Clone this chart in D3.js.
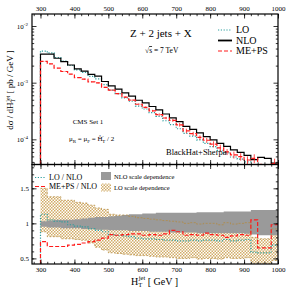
<!DOCTYPE html>
<html>
<head>
<meta charset="utf-8">
<script src="https://cdn.jsdelivr.net/npm/d3@7"></script>
<style>
  body { margin: 0; background: #fff; }
  svg { font-family: "Liberation Serif", "DejaVu Serif", serif; }
  .frame { fill: none; stroke: #000; stroke-width: 1.2; }
  .axis path { display: none; }
  .axis line { stroke: #000; stroke-width: 0.8; }
  .axis text { font-family: "Liberation Serif", serif; font-size: 7px; fill: #000; }
</style>
</head>
<body>
<svg id="chart" width="287" height="291"></svg>
<script>
/* bins van 20 GeV, 300 - 1000 */
var binStart = d3.range(300, 1000, 20);
var binWidth = 20;

/* NLO in pb/GeV */
var nlo = [3.2e-3, 3.2e-3, 2.7e-3, 2.35e-3, 2.05e-3, 1.75e-3, 1.6e-3, 1.4e-3, 1.3e-3, 1.05e-3,
           8.8e-4, 7.7e-4, 6.6e-4, 5.8e-4, 4.9e-4, 4.4e-4, 3.8e-4, 3.3e-4, 2.8e-4, 2.4e-4,
           2.05e-4, 1.7e-4, 1.5e-4, 1.3e-4, 1.12e-4, 9.8e-5, 8.5e-5, 7.5e-5, 6.5e-5, 5.9e-5,
           5.2e-5, 4.4e-5, 4.8e-5, 4.6e-5, 3.8e-5];

/* verhoudingen */
var loRatio = [1.13, 1.05, 1.03, 1.02, 0.98, 0.96, 0.95, 0.92, 0.90, 0.88,
               0.84, 0.83, 0.82, 0.81, 0.79, 0.78, 0.78, 0.77, 0.76, 0.76,
               0.75, 0.75, 0.76, 0.75, 0.76, 0.76, 0.75, 0.77, 0.75, 0.76,
               0.77, 0.59, 0.58, 0.58, 0.69];
var meRatio = [0.74, 0.67, 0.67, 0.67, 0.69, 0.70, 0.72, 0.74, 0.76, 0.79,
               0.84, 0.83, 0.84, 0.85, 0.85, 0.83, 0.84, 0.83, 0.85, 0.90,
               0.88, 0.83, 0.84, 0.83, 0.86, 0.84, 0.83, 0.80, 0.82, 0.84,
               0.83, 1.05, 0.65, 0.65, 0.98];
var meRelErr = [0.01, 0.01, 0.01, 0.01, 0.01, 0.01, 0.02, 0.02, 0.02, 0.02,
                0.03, 0.03, 0.03, 0.03, 0.04, 0.04, 0.04, 0.05, 0.05, 0.06,
                0.07, 0.09, 0.08, 0.09, 0.10, 0.12, 0.14, 0.12, 0.14, 0.15,
                0.16, 0.18, 0.20, 0.20, 0.22];

/* schaalafhankelijkheid */
var nloBandLow  = [0.95, 0.94, 0.94, 0.93, 0.93, 0.93, 0.92, 0.92, 0.91, 0.91,
                   0.90, 0.90, 0.90, 0.89, 0.89, 0.89, 0.88, 0.88, 0.88, 0.87,
                   0.87, 0.87, 0.87, 0.86, 0.86, 0.86, 0.86, 0.86, 0.86, 0.86,
                   0.85, 0.84, 0.83, 0.83, 0.83];
var nloBandHigh = [1.03, 1.04, 1.05, 1.05, 1.05, 1.06, 1.07, 1.08, 1.09, 1.09,
                   1.10, 1.11, 1.12, 1.13, 1.13, 1.14, 1.14, 1.15, 1.15, 1.15,
                   1.15, 1.15, 1.15, 1.16, 1.16, 1.16, 1.16, 1.17, 1.17, 1.17,
                   1.17, 1.19, 1.19, 1.19, 1.19];
var loBandLow  = [0.88, 0.81, 0.81, 0.78, 0.78, 0.77, 0.76, 0.72, 0.66, 0.62,
                  0.58, 0.57, 0.56, 0.55, 0.54, 0.54, 0.53, 0.52, 0.52, 0.51,
                  0.50, 0.50, 0.51, 0.49, 0.50, 0.50, 0.49, 0.51, 0.50, 0.50,
                  0.51, 0.40, 0.40, 0.40, 0.47];
var loBandHigh = [1.50, 1.38, 1.38, 1.33, 1.33, 1.30, 1.29, 1.26, 1.22, 1.20,
                  1.13, 1.12, 1.12, 1.10, 1.08, 1.07, 1.06, 1.05, 1.04, 1.03,
                  1.02, 1.00, 1.01, 0.99, 1.00, 1.00, 0.98, 1.01, 0.99, 1.00,
                  1.01, 0.80, 0.78, 0.78, 0.92];

var xTicks = [300, 400, 500, 600, 700, 800, 900, 1000];
var yUpTicks = [1e-2, 1e-3, 1e-4];
var yUpLabels = ["-2", "-3", "-4"];
var yLoTicks = [0.5, 1, 1.5];

var svg = d3.select("#chart");
var left = 32, right = 278, upTop = 14, mid = 164.5, loBot = 264;

var x = d3.scaleLinear().domain([275, 1000]).range([left, right]);
var yUp = d3.scaleLog().domain([Math.pow(10, -4.444), Math.pow(10, -1.788)]).range([mid, upTop]);
var yLo = d3.scaleLinear().domain([0.42, 1.84]).range([loBot, mid]);

var defs = svg.append("defs");
defs.append("clipPath").attr("id", "clipUp").append("rect")
    .attr("x", left).attr("y", upTop).attr("width", right - left).attr("height", mid - upTop);
defs.append("clipPath").attr("id", "clipLo").append("rect")
    .attr("x", left).attr("y", mid).attr("width", right - left).attr("height", loBot - mid);
var pat = defs.append("pattern").attr("id", "checker")
    .attr("patternUnits", "userSpaceOnUse").attr("width", 3).attr("height", 3);
pat.append("rect").attr("width", 3).attr("height", 3).attr("fill", "#fff");
pat.append("rect").attr("width", 1.5).attr("height", 1.5).attr("fill", "#d2ac68");
pat.append("rect").attr("x", 1.5).attr("y", 1.5).attr("width", 1.5).attr("height", 1.5).attr("fill", "#d2ac68");

/* maakt trappunten van een reeks */
function steps(values) {
  var pts = [];
  values.forEach(function(v, i) {
    pts.push([binStart[i], v]);
    pts.push([binStart[i] + binWidth, v]);
  });
  return pts;
}

function histPath(values, yScale, base) {
  var pts = steps(values);
  pts.unshift([300, base]);
  return d3.line()
    .x(function(d) { return x(d[0]); })
    .y(function(d) { return yScale(d[1]); })(pts);
}

var loVals = nlo.map(function(v, i) { return v * loRatio[i]; });
var meVals = nlo.map(function(v, i) { return v * meRatio[i]; });

var styles = {
  lo: { stroke: "#2a9d9d", dash: "1.2,1.6", width: 1.2 },
  nlo: { stroke: "#000", dash: null, width: 1.2 },
  me: { stroke: "#ff1a1a", dash: "4,2", width: 1.2 }
};

/* bovenste paneel */
var gUp = svg.append("g").attr("clip-path", "url(#clipUp)");
var baseUp = yUp.domain()[0];

gUp.append("path").attr("d", histPath(loVals, yUp, baseUp))
  .attr("fill", "none").attr("stroke", styles.lo.stroke)
  .attr("stroke-dasharray", styles.lo.dash).attr("stroke-width", styles.lo.width);
gUp.append("path").attr("d", histPath(nlo, yUp, baseUp))
  .attr("fill", "none").attr("stroke", styles.nlo.stroke).attr("stroke-width", styles.nlo.width);
gUp.append("path").attr("d", histPath(meVals, yUp, baseUp))
  .attr("fill", "none").attr("stroke", styles.me.stroke)
  .attr("stroke-dasharray", styles.me.dash).attr("stroke-width", styles.me.width);

gUp.selectAll(".err")
  .data(meVals)
  .enter().append("line")
    .attr("class", "err")
    .attr("x1", function(d, i) { return x(binStart[i] + binWidth / 2); })
    .attr("x2", function(d, i) { return x(binStart[i] + binWidth / 2); })
    .attr("y1", function(d, i) { return yUp(d * (1 + meRelErr[i])); })
    .attr("y2", function(d, i) { return yUp(d * (1 - meRelErr[i])); })
    .attr("stroke", styles.me.stroke).attr("stroke-width", 0.8);

/* onderste paneel */
var gLo = svg.append("g").attr("clip-path", "url(#clipLo)");

var bandArea = d3.area()
  .x(function(d) { return x(d.x); })
  .y0(function(d) { return yLo(d.lo); })
  .y1(function(d) { return yLo(d.hi); });

function bandPts(lo, hi) {
  var pts = [];
  lo.forEach(function(v, i) {
    pts.push({ x: binStart[i], lo: v, hi: hi[i] });
    pts.push({ x: binStart[i] + binWidth, lo: v, hi: hi[i] });
  });
  return pts;
}

gLo.append("path").attr("d", bandArea(bandPts(loBandLow, loBandHigh)))
  .attr("fill", "url(#checker)");
gLo.append("path").attr("d", bandArea(bandPts(nloBandLow, nloBandHigh)))
  .attr("fill", "#9a9a9a");

var edgeLine = d3.line()
  .x(function(d) { return x(d[0]); })
  .y(function(d) { return yLo(d[1]); });
[loBandLow, loBandHigh].forEach(function(arr) {
  gLo.append("path").attr("d", edgeLine(steps(arr)))
    .attr("fill", "none").attr("stroke", "#b58a3c")
    .attr("stroke-width", 0.7).attr("stroke-dasharray", "2,1.5");
});

var baseLo = yLo.domain()[0];
gLo.append("path").attr("d", histPath(loRatio, yLo, baseLo))
  .attr("fill", "none").attr("stroke", styles.lo.stroke)
  .attr("stroke-dasharray", styles.lo.dash).attr("stroke-width", styles.lo.width);
gLo.append("path").attr("d", histPath(meRatio, yLo, baseLo))
  .attr("fill", "none").attr("stroke", styles.me.stroke)
  .attr("stroke-dasharray", styles.me.dash).attr("stroke-width", styles.me.width);

/* assen */
var xMinor = d3.range(280, 1001, 20);

function xAxes(yPos, dir, withLabels) {
  var maker = dir < 0 ? d3.axisTop : d3.axisBottom;
  svg.append("g").attr("class", "axis")
    .attr("transform", "translate(0," + yPos + ")")
    .call(maker(x).tickValues(xMinor).tickSize(-2.2).tickFormat(""));
  svg.append("g").attr("class", "axis")
    .attr("transform", "translate(0," + yPos + ")")
    .call(maker(x).tickValues(xTicks).tickSize(-4.5).tickPadding(withLabels ? 3 : 0)
      .tickFormat(withLabels ? d3.format("d") : ""));
}
xAxes(upTop, -1, true);
xAxes(mid, 1, false);
xAxes(mid, -1, false);
xAxes(loBot, 1, true);

var upMinor = [];
[-5, -4, -3, -2].forEach(function(e) {
  for (var k = 2; k < 10; k++) {
    var v = k * Math.pow(10, e);
    if (v > yUp.domain()[0] && v < yUp.domain()[1]) upMinor.push(v);
  }
});

svg.append("g").attr("class", "axis").attr("transform", "translate(" + left + ",0)")
  .call(d3.axisLeft(yUp).tickValues(upMinor).tickSize(-2.2).tickFormat(""));
svg.append("g").attr("class", "axis").attr("transform", "translate(" + left + ",0)")
  .call(d3.axisLeft(yUp).tickValues(yUpTicks).tickSize(-4.5).tickFormat(""));
svg.append("g").attr("class", "axis").attr("transform", "translate(" + right + ",0)")
  .call(d3.axisRight(yUp).tickValues(upMinor).tickSize(-2.2).tickFormat(""));
svg.append("g").attr("class", "axis").attr("transform", "translate(" + right + ",0)")
  .call(d3.axisRight(yUp).tickValues(yUpTicks).tickSize(-4.5).tickFormat(""));

var upLab = svg.append("g").selectAll("text")
  .data(yUpTicks)
  .enter().append("text")
    .attr("x", left - 4)
    .attr("y", function(d) { return yUp(d) + 3; })
    .attr("text-anchor", "end")
    .style("font-size", "7px");
upLab.append("tspan").text("10");
upLab.append("tspan").attr("dy", -3).style("font-size", "5px")
  .text(function(d, i) { return yUpLabels[i]; });

var loMinor = d3.range(5, 19).map(function(k) { return k / 10; });
svg.append("g").attr("class", "axis").attr("transform", "translate(" + left + ",0)")
  .call(d3.axisLeft(yLo).tickValues(loMinor).tickSize(-2.2).tickFormat(""));
svg.append("g").attr("class", "axis").attr("transform", "translate(" + left + ",0)")
  .call(d3.axisLeft(yLo).tickValues(yLoTicks).tickSize(-4.5).tickPadding(3)
    .tickFormat(d3.format("")));
svg.append("g").attr("class", "axis").attr("transform", "translate(" + right + ",0)")
  .call(d3.axisRight(yLo).tickValues(loMinor).tickSize(-2.2).tickFormat(""));
svg.append("g").attr("class", "axis").attr("transform", "translate(" + right + ",0)")
  .call(d3.axisRight(yLo).tickValues(yLoTicks).tickSize(-4.5).tickFormat(""));

/* kaders */
svg.append("rect").attr("class", "frame")
  .attr("x", left).attr("y", upTop).attr("width", right - left).attr("height", mid - upTop);
svg.append("rect").attr("class", "frame")
  .attr("x", left).attr("y", mid).attr("width", right - left).attr("height", loBot - mid);

/* teksten bovenste paneel */
svg.append("text").attr("x", 130).attr("y", 37).style("font-size", "11px")
  .text("Z + 2 jets + X");
var rs = svg.append("text").attr("x", 145).attr("y", 53).style("font-size", "7.5px");
rs.append("tspan").text("\u221A");
rs.append("tspan").style("text-decoration", "overline").text("s");
rs.append("tspan").text("  = 7 TeV");

svg.append("text").attr("x", 88).attr("y", 124).attr("text-anchor", "middle")
  .style("font-size", "7px").text("CMS Set 1");
var mu = svg.append("text").attr("x", 69).attr("y", 141).style("font-size", "7px");
mu.append("tspan").text("\u03BC");
mu.append("tspan").attr("dy", 1.5).style("font-size", "5px").text("R");
mu.append("tspan").attr("dy", -1.5).text(" = \u03BC");
mu.append("tspan").attr("dy", 1.5).style("font-size", "5px").text("F");
mu.append("tspan").attr("dy", -1.5).text(" = \u0124");
mu.append("tspan").attr("dy", -2.5).style("font-size", "5px").text("\u2032");
mu.append("tspan").attr("dy", 4).attr("dx", -1.5).style("font-size", "5px").text("T");
mu.append("tspan").attr("dy", -1.5).text(" / 2");

svg.append("text").attr("x", 166).attr("y", 155).style("font-size", "8.5px")
  .text("BlackHat+Sherpa");

/* legenda bovenste paneel */
var legUp = [
  { label: "LO", s: styles.lo, y: 33 },
  { label: "NLO", s: styles.nlo, y: 43.5 },
  { label: "ME+PS", s: styles.me, y: 54 }
];
var lu = svg.append("g").selectAll("g").data(legUp).enter().append("g");
lu.append("line")
  .attr("x1", 218).attr("x2", 232)
  .attr("y1", function(d) { return d.y - 3; }).attr("y2", function(d) { return d.y - 3; })
  .attr("stroke", function(d) { return d.s.stroke; })
  .attr("stroke-width", function(d) { return d.label === "NLO" ? 1.8 : 1.2; })
  .attr("stroke-dasharray", function(d) { return d.s.dash; });
lu.append("text").attr("x", 236).attr("y", function(d) { return d.y; })
  .style("font-size", "10px").text(function(d) { return d.label; });

/* legenda onderste paneel */
var legLo = [
  { label: "LO / NLO", s: styles.lo, y: 180 },
  { label: "ME+PS / NLO", s: styles.me, y: 189 }
];
var ll = svg.append("g").selectAll("g").data(legLo).enter().append("g");
ll.append("line")
  .attr("x1", 35).attr("x2", 46)
  .attr("y1", function(d) { return d.y - 2.5; }).attr("y2", function(d) { return d.y - 2.5; })
  .attr("stroke", function(d) { return d.s.stroke; })
  .attr("stroke-width", 1.2)
  .attr("stroke-dasharray", function(d) { return d.s.dash; });
ll.append("text").attr("x", 49).attr("y", function(d) { return d.y; })
  .style("font-size", "8px").text(function(d) { return d.label; });

svg.append("rect").attr("x", 101).attr("y", 172).attr("width", 10).attr("height", 8)
  .attr("fill", "#9a9a9a");
svg.append("text").attr("x", 114).attr("y", 179).style("font-size", "6.5px")
  .text("NLO scale dependence");
svg.append("rect").attr("x", 101).attr("y", 183.5).attr("width", 10).attr("height", 8)
  .attr("fill", "url(#checker)");
svg.append("text").attr("x", 114).attr("y", 190).style("font-size", "6.5px")
  .text("LO scale dependence");

/* as-labels */
var yl = svg.append("text")
  .attr("transform", "translate(13,90) rotate(-90)")
  .attr("text-anchor", "middle")
  .style("font-size", "9px");
yl.append("tspan").text("d\u03C3 / dH");
yl.append("tspan").attr("dy", 2).style("font-size", "6px").text("T");
yl.append("tspan").attr("dy", -5.5).attr("dx", -3).style("font-size", "6px").text("jet");
yl.append("tspan").attr("dy", 3.5).text("   [ pb / GeV ]");

var xl = svg.append("text").attr("x", 131).attr("y", 285).style("font-size", "10px");
xl.append("tspan").text("H");
xl.append("tspan").attr("dy", 2).style("font-size", "6.5px").text("T");
xl.append("tspan").attr("dy", -7).attr("dx", -3.5).style("font-size", "6.5px").text("jet");
xl.append("tspan").attr("dy", 5).text("   [ GeV ]");
</script>
</body>
</html>
